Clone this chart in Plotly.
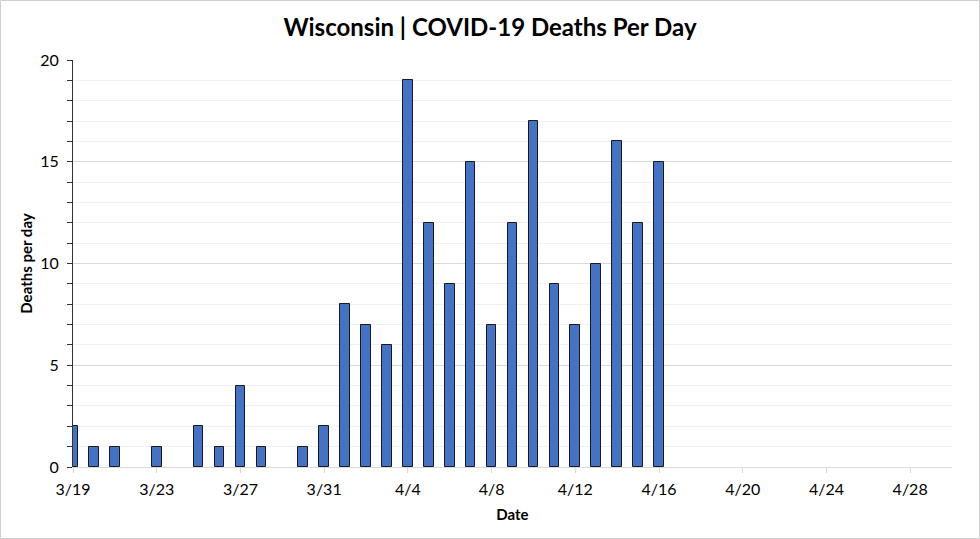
import plotly.graph_objects as go

dates = ["2020-03-19","2020-03-20","2020-03-21","2020-03-22","2020-03-23","2020-03-24","2020-03-25",
         "2020-03-26","2020-03-27","2020-03-28","2020-03-29","2020-03-30","2020-03-31","2020-04-01",
         "2020-04-02","2020-04-03","2020-04-04","2020-04-05","2020-04-06","2020-04-07","2020-04-08",
         "2020-04-09","2020-04-10","2020-04-11","2020-04-12","2020-04-13","2020-04-14","2020-04-15",
         "2020-04-16"]
deaths = [2,1,1,0,1,0,2,1,4,1,0,1,2,8,7,6,19,12,9,15,7,12,17,9,7,10,16,12,15]

FONT = "Lato, 'Open Sans', sans-serif"
W, H = 980, 539
L, R, T, B = 73, 28, 60, 72
pw, ph = W - L - R, H - T - B

fig = go.Figure(go.Bar(
    x=dates, y=deaths,
    width=0.46 * 86400000,
    marker=dict(color="#4472C4",
                line=dict(color="#1a1a1a", width=[1 if v > 0 else 0 for v in deaths])),
    cliponaxis=True,
))

fig.update_layout(
    width=W, height=H,
    margin=dict(l=L, r=R, t=T, b=B, autoexpand=False),
    paper_bgcolor="white", plot_bgcolor="white",
    showlegend=False,
    font=dict(family=FONT, color="#000000", size=16),
    title=dict(text="<b>Wisconsin | COVID-19 Deaths Per Day</b>", x=0.5, xanchor="center",
               y=1 - 28 / H, yanchor="middle", font=dict(size=24, family=FONT, color="#000")),
    bargap=0,
    shapes=[dict(type="rect", xref="paper", yref="paper",
                 x0=-(L - 0.5) / pw, x1=1 + (R - 0.5) / pw,
                 y0=-(B - 0.5) / ph, y1=1 + (T - 0.5) / ph,
                 line=dict(color="#d0d0d0", width=1), layer="below")],
)

fig.update_xaxes(
    type="date", automargin=False,
    range=["2020-03-19", "2020-04-30"],
    tick0="2020-03-19", dtick=4 * 86400000,
    tickformat="%-m/%-d",
    showgrid=False,
    showline=True, linecolor="#d9d9d9", linewidth=1,
    ticks="outside", tickcolor="#d9d9d9", ticklen=5,
    ticklabelstandoff=3,
    tickfont=dict(size=16, family=FONT),
    title=dict(text="<b>Date</b>", font=dict(size=15, family=FONT), standoff=12),
    zeroline=False,
)

fig.update_yaxes(
    automargin=False,
    range=[0, 20],
    tick0=0, dtick=5,
    showgrid=True, gridcolor="#d9d9d9", gridwidth=1,
    minor=dict(dtick=1, showgrid=True, gridcolor="#f0f0f0", ticks="outside",
               ticklen=5, tickcolor="#333"),
    showline=True, linecolor="#333", linewidth=1,
    ticks="outside", tickcolor="#333", ticklen=5,
    ticklabelstandoff=5,
    tickfont=dict(size=16, family=FONT),
    title=dict(text="<b>Deaths per day</b>", font=dict(size=15, family=FONT), standoff=3),
    zeroline=False,
)

fig.write_html("out.html", config={"displayModeBar": False},
               post_script="document.body.style.margin='0';document.body.style.overflow='hidden';")
